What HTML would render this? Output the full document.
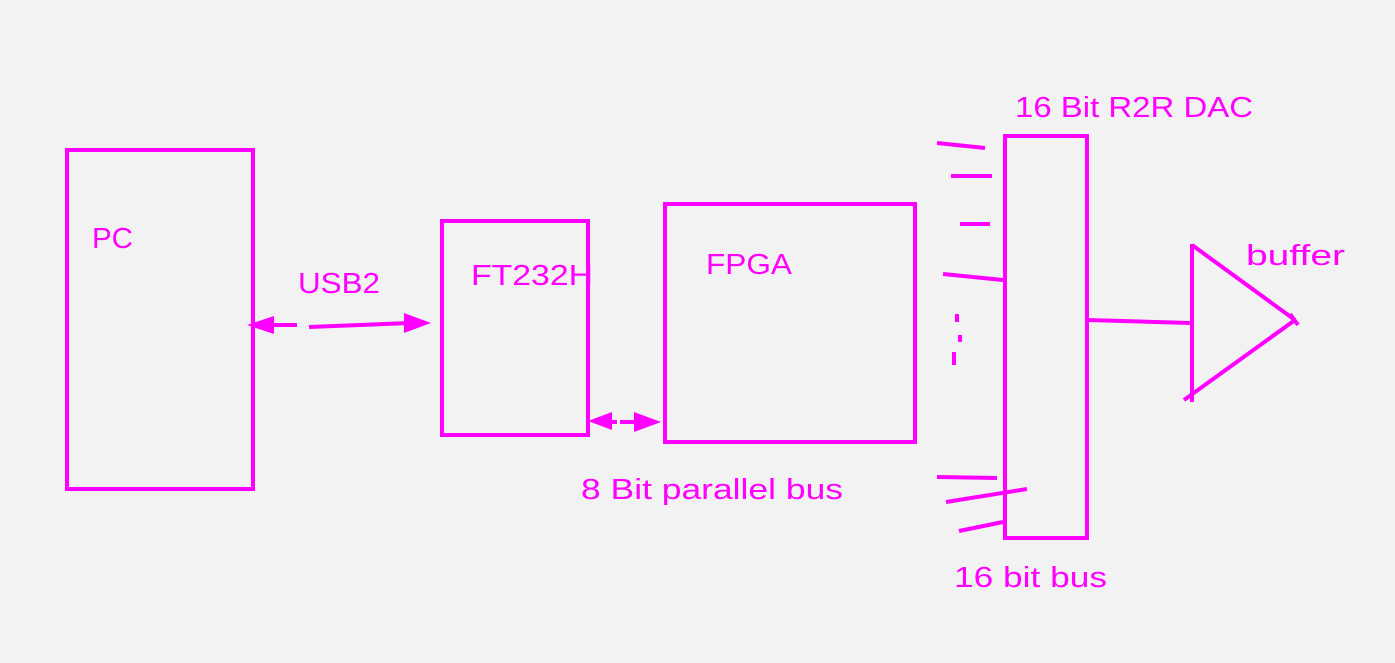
<!DOCTYPE html>
<html><head><meta charset="utf-8"><style>
html,body{margin:0;padding:0;background:#f2f2f2;}
svg{display:block}
text{font-family:"Liberation Sans",sans-serif;font-size:29px;fill:#ff00ff;}
</style></head><body>
<svg width="1395" height="663" viewBox="0 0 1395 663">
<rect width="1395" height="663" fill="#f2f2f2"/>
<g fill="none" stroke="#ff00ff" stroke-width="4">
<rect x="67" y="150" width="186" height="339"/>
<rect x="442" y="221" width="146" height="214"/>
<rect x="665" y="204" width="250" height="238"/>
<rect x="1005" y="136" width="82" height="402"/>
<line x1="256" y1="325" x2="297" y2="325"/>
<line x1="309" y1="327" x2="410" y2="323"/>
<line x1="596" y1="422" x2="617" y2="422"/>
<line x1="620" y1="422" x2="640" y2="422"/>
<line x1="937" y1="143" x2="985" y2="148"/>
<line x1="951" y1="176" x2="992" y2="176"/>
<line x1="960" y1="224" x2="990" y2="224"/>
<line x1="943" y1="274" x2="1003" y2="280"/>
<line x1="957" y1="314" x2="957" y2="322"/>
<line x1="960" y1="335" x2="960" y2="342"/>
<line x1="954" y1="352" x2="954" y2="365"/>
<line x1="937" y1="477" x2="997" y2="478"/>
<line x1="946" y1="502" x2="1027" y2="489"/>
<line x1="959" y1="531" x2="1003" y2="522"/>
<line x1="1087" y1="320" x2="1190" y2="323"/>
<line x1="1192" y1="244" x2="1192" y2="402"/>
<line x1="1192" y1="245" x2="1295" y2="320"/>
<line x1="1295" y1="320" x2="1184" y2="400"/>
<line x1="1290" y1="314" x2="1298" y2="325"/>
</g>
<g fill="#ff00ff">
<polygon points="247,325 274,316 274,334"/>
<polygon points="431,323 404,313 404,333"/>
<polygon points="588,421 612,412 612,430"/>
<polygon points="661,422 634,412 634,432"/>
</g>
<text x="92" y="248" textLength="41" lengthAdjust="spacingAndGlyphs">PC</text>
<text x="298" y="293" textLength="82" lengthAdjust="spacingAndGlyphs">USB2</text>
<text x="471" y="285" textLength="122" lengthAdjust="spacingAndGlyphs">FT232H</text>
<text x="706" y="274" textLength="86" lengthAdjust="spacingAndGlyphs">FPGA</text>
<text x="581" y="499" textLength="262" lengthAdjust="spacingAndGlyphs">8 Bit parallel bus</text>
<text x="1015" y="117" textLength="238" lengthAdjust="spacingAndGlyphs">16 Bit R2R DAC</text>
<text x="1246" y="265" textLength="99" lengthAdjust="spacingAndGlyphs">buffer</text>
<text x="954" y="587" textLength="153" lengthAdjust="spacingAndGlyphs">16 bit bus</text>
</svg>
</body></html>
